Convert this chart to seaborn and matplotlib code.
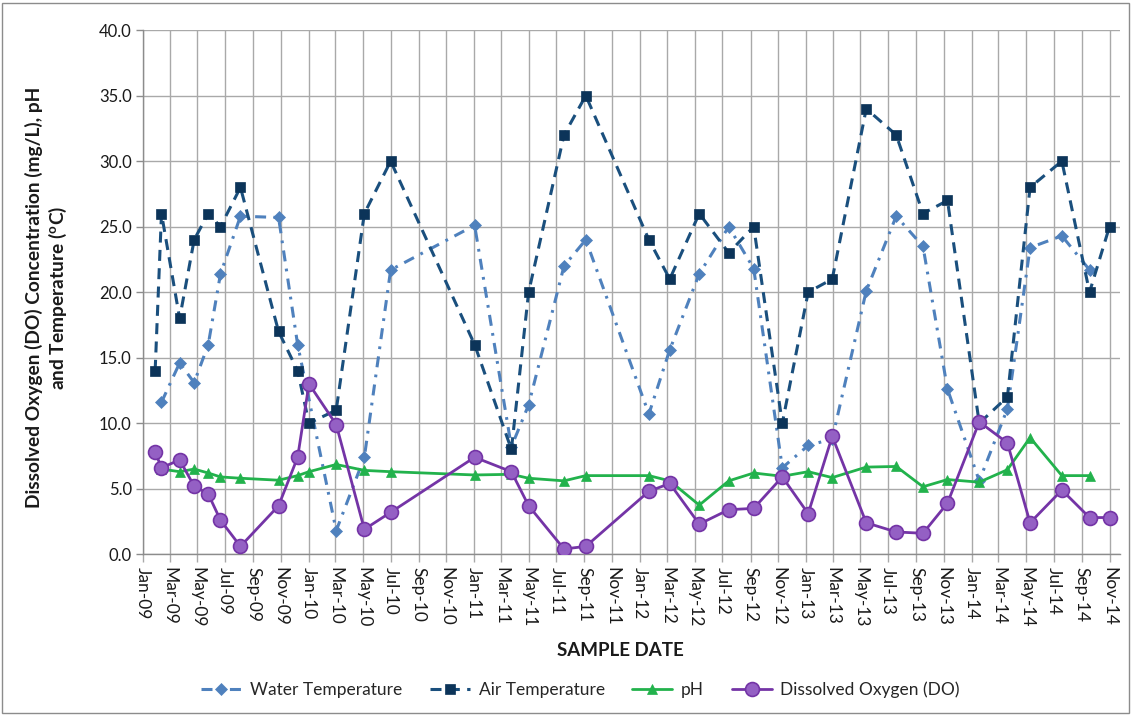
import numpy as np
import pandas as pd
import matplotlib
matplotlib.use("Agg")
import matplotlib.pyplot as plt
import matplotlib.dates as mdates
from matplotlib.patches import Rectangle
import seaborn as sns

# Sampling dates and measured values (NaN = not measured on that date)
sample_dates = [
    "2009-01-28", "2009-02-11", "2009-03-23", "2009-04-24", "2009-05-25", "2009-06-21",
    "2009-08-04", "2009-10-27", "2009-12-08", "2010-01-02", "2010-03-03", "2010-05-04",
    "2010-07-01", "2011-01-02", "2011-03-24", "2011-05-01", "2011-07-18", "2011-09-04",
    "2012-01-21", "2012-03-07", "2012-05-11", "2012-07-15", "2012-09-08", "2012-11-10",
    "2013-01-06", "2013-02-28", "2013-05-14", "2013-07-19", "2013-09-16", "2013-11-09",
    "2014-01-18", "2014-03-21", "2014-05-10", "2014-07-19", "2014-09-18", "2014-11-01",
]
water_temp = [
    np.nan, 11.6, 14.6, 13.1, 16.0, 21.4, 25.8, 25.7, 16.0, np.nan, 1.8, 7.4,
    21.7, 25.1, 8.2, 11.4, 22.0, 24.0, 10.7, 15.6, 21.4, 25.0, 21.8, 6.6,
    8.3, 8.8, 20.1, 25.8, 23.5, 12.6, 5.6, 11.1, 23.4, 24.3, 21.7, np.nan,
]
air_temp = [
    14, 26, 18, 24, 26, 25, 28, 17, 14, 10, 11, 26,
    30, 16, 8, 20, 32, 35, 24, 21, 26, 23, 25, 10,
    20, 21, 34, 32, 26, 27, 10, 12, 28, 30, 20, 25,
]
ph = [
    np.nan, 6.5, 6.3, 6.5, 6.2, 5.9, 5.8, 5.65, 6.0, 6.3, 6.85, 6.4,
    6.3, 6.05, 6.1, 5.8, 5.6, 6.0, 6.0, 5.6, 3.75, 5.6, 6.2, 5.95,
    6.3, 5.85, 6.65, 6.7, 5.15, 5.7, 5.5, 6.45, 8.9, 6.0, 6.0, np.nan,
]
dissolved_oxygen = [
    7.8, 6.6, 7.2, 5.2, 4.6, 2.6, 0.6, 3.7, 7.4, 13.0, 9.9, 1.9,
    3.2, 7.4, 6.3, 3.7, 0.4, 0.6, 4.8, 5.4, 2.3, 3.4, 3.5, 5.9,
    3.1, 9.0, 2.4, 1.7, 1.6, 3.9, 10.1, 8.5, 2.4, 4.9, 2.8, 2.8,
]

y_ticks = [0, 5, 10, 15, 20, 25, 30, 35, 40]

df = pd.DataFrame({
    "date": pd.to_datetime(sample_dates),
    "water": water_temp,
    "air": air_temp,
    "ph": ph,
    "do": dissolved_oxygen,
})

sns.set_theme(style="whitegrid")
plt.rcParams["font.family"] = ["Lato", "DejaVu Sans"]
plt.rcParams["mathtext.fontset"] = "custom"
plt.rcParams["mathtext.rm"] = "Lato"
plt.rcParams["mathtext.bf"] = "Lato:bold"

fig, ax = plt.subplots(figsize=(11.34, 7.17), dpi=100)
fig.subplots_adjust(left=0.126, right=0.988, top=0.958, bottom=0.227)

grid_color = "#a9a9a9"

series = [
    ("Water Temperature", "water", dict(
        color="#4f81bd", linewidth=2.2, linestyle=(0, (3.6, 2.4, 0.9, 2.4)),
        marker="D", markersize=6.5, markerfacecolor="#4f81bd",
        markeredgecolor="#4f81bd", markeredgewidth=0.5, zorder=3)),
    ("Air Temperature", "air", dict(
        color="#1a4f7d", linewidth=2.2, linestyle=(0, (3.6, 2.4)),
        marker="s", markersize=6.5, markerfacecolor="#0c3459",
        markeredgecolor="#0c3459", markeredgewidth=0.5, zorder=4)),
    ("pH", "ph", dict(
        color="#22b24c", linewidth=2.0, linestyle="-",
        marker="^", markersize=6.5, markerfacecolor="#22b24c",
        markeredgecolor="#22b24c", markeredgewidth=0.5, zorder=5)),
    ("Dissolved Oxygen (DO)", "do", dict(
        color="#7434a6", linewidth=2.0, linestyle="-",
        marker="o", markersize=10, markerfacecolor="#9460c4",
        markeredgecolor="#7434a6", markeredgewidth=1.2, zorder=6)),
]

for label, col, kw in series:
    d = df[["date", col]].dropna()
    sns.lineplot(data=d, x="date", y=col, ax=ax, label=label,
                 estimator=None, sort=False, **kw)

# Axes limits, ticks and grid
ax.set_ylim(0, 40)
ax.set_yticks(y_ticks)
ax.yaxis.set_major_formatter(matplotlib.ticker.FormatStrFormatter("%.1f"))
ax.set_xlim(pd.Timestamp("2009-01-01"), pd.Timestamp("2014-11-25"))
ax.xaxis.set_major_locator(mdates.MonthLocator(bymonth=(1, 3, 5, 7, 9, 11)))
ax.xaxis.set_major_formatter(mdates.DateFormatter("%b-%y"))

ax.grid(True, color=grid_color, linewidth=1.0)
for side in ("top", "right"):
    ax.spines[side].set_visible(False)
for side in ("left", "bottom"):
    ax.spines[side].set_color("#8c8c8c")
    ax.spines[side].set_linewidth(1.0)

ax.tick_params(axis="x", which="major", bottom=True, length=6, width=1.0,
               color=grid_color, pad=3, labelsize=12.5, labelcolor="#1a1a1a")
ax.tick_params(axis="y", which="major", left=True, length=5, width=1.0,
               color="#8c8c8c", pad=3, labelsize=12, labelcolor="#1a1a1a")
for lbl in ax.get_xticklabels():
    lbl.set_rotation(270)
    lbl.set_ha("center")
    lbl.set_va("top")

ax.set_xlabel("SAMPLE DATE", fontweight="bold", fontsize=13.5, color="#1a1a1a")
ax.xaxis.set_label_coords(0.488, -0.168)
ax.set_ylabel("Dissolved Oxygen (DO) Concentration (mg/L), pH\n"
              "and Temperature ($\\mathbf{^{o}}$C)",
              fontweight="bold", fontsize=13.8, color="#1a1a1a",
              multialignment="center", linespacing=1.2)
ax.yaxis.set_label_coords(-0.076, 0.49)

# Legend below the plot area
handles, labels = ax.get_legend_handles_labels()
ax.get_legend().remove()
fig.legend(handles, labels, loc="center", bbox_to_anchor=(0.512, 0.038),
           ncol=4, frameon=False, fontsize=12.5, handlelength=2.3,
           columnspacing=1.6, handletextpad=0.5)

# Thin frame around the whole chart
fig.patches.append(Rectangle((0.002, 0.006), 0.994, 0.99, transform=fig.transFigure,
                             fill=False, edgecolor="#8c8c8c", linewidth=1.0))

fig.savefig("out.png", dpi=100)
